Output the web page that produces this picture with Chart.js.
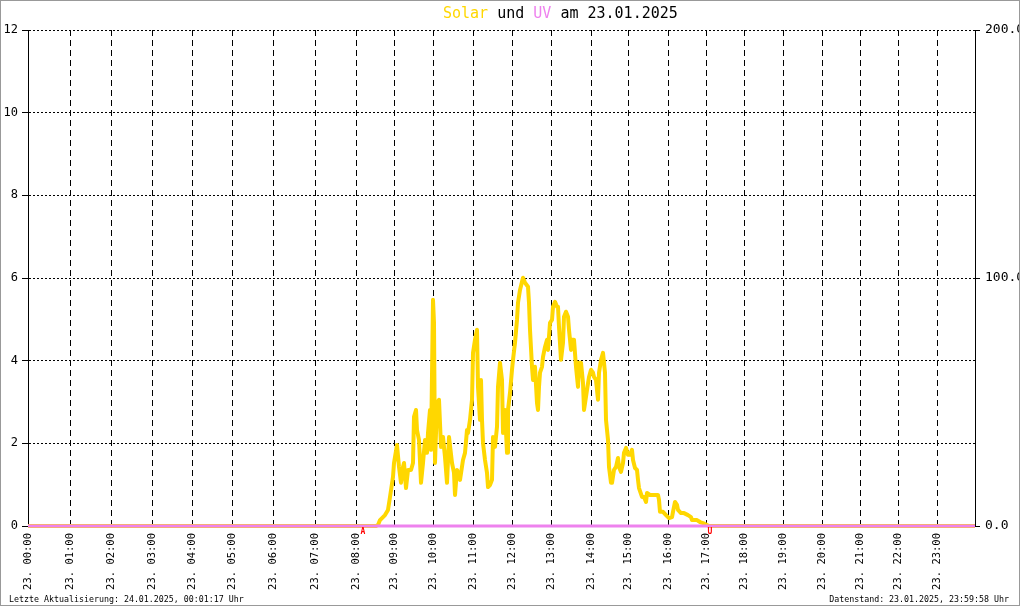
<!DOCTYPE html>
<html>
<head>
<meta charset="utf-8">
<title>Solar und UV am 23.01.2025</title>
<script src="https://cdn.jsdelivr.net/npm/chart.js@4.4.1/dist/chart.umd.min.js"></script>
<style>
  html, body { margin: 0; padding: 0; background: #fff; }
  canvas { display: block; }
</style>
</head>
<body>
<canvas id="solarChart" width="1020" height="606"></canvas>
<script>
const MONO = '"DejaVu Sans Mono", "Liberation Mono", monospace';
const SOLAR_COLOR = '#ffd700';
const UV_COLOR = '#ee82ee';

// logger record at which each full hour starts (rows are not evenly spaced over the day)
const hourRecords = [0, 42, 83, 124, 164, 204, 245, 287, 328, 366, 405, 445, 484, 523, 563, 600, 640, 678, 716, 755, 794, 832, 870, 909];
const hourLabels = ['23. 00:00', '23. 01:00', '23. 02:00', '23. 03:00', '23. 04:00', '23. 05:00',
  '23. 06:00', '23. 07:00', '23. 08:00', '23. 09:00', '23. 10:00', '23. 11:00',
  '23. 12:00', '23. 13:00', '23. 14:00', '23. 15:00', '23. 16:00', '23. 17:00',
  '23. 18:00', '23. 19:00', '23. 20:00', '23. 21:00', '23. 22:00', '23. 23:00'];
const lastRecord = 947;

const uvTicks = [0, 2, 4, 6, 8, 10, 12];
const solarTicks = [0, 100, 200];

// solar radiation, W/m²
const solarRecords = [
  0, 348, 350, 352, 357, 360, 362, 365, 366, 369,
  371, 373, 375, 376, 378, 380, 383, 385, 386, 388,
  389, 391, 393, 395, 397, 399, 400, 402, 403, 405,
  406, 407, 409, 411, 413, 415, 417, 419, 421, 424,
  426, 427, 429, 432, 435, 437, 439, 440, 442, 444,
  445, 447, 449, 450, 452, 453, 454, 455, 457, 459,
  460, 462, 464, 465, 467, 469, 470, 472, 474, 475,
  477, 479, 480, 482, 484, 485, 487, 489, 490, 492,
  494, 495, 497, 500, 501, 502, 504, 505, 507, 509,
  510, 511, 512, 514, 515, 517, 519, 520, 522, 524,
  525, 527, 529, 530, 531, 533, 535, 536, 538, 540,
  541, 543, 544, 546, 548, 550, 551, 553, 555, 556,
  558, 559, 561, 563, 565, 566, 568, 570, 571, 573,
  575, 576, 577, 578, 580, 581, 583, 584, 586, 588,
  590, 591, 593, 595, 596, 598, 600, 602, 604, 605,
  607, 609, 610, 611, 614, 616, 618, 619, 622, 626,
  630, 631, 632, 635, 638, 641, 644, 645, 647, 649,
  650, 653, 656, 660, 663, 664, 669, 672, 675, 679,
  681, 947];
const solarValues = [
  0, 0, 0.4, 2.4, 4.4, 6.5, 11.7, 19.8, 25.4, 32.7,
  23.8, 17.4, 23.8, 25.4, 15.3, 22.6, 22.6, 25.4, 44.0, 46.8,
  38.7, 34.7, 17.4, 25.4, 34.7, 29.5, 37.5, 46.8, 30.7, 91.2,
  81.9, 25.4, 49.6, 50.9, 31.9, 35.9, 27.8, 17.4, 35.9, 25.4,
  21.4, 12.5, 22.6, 18.6, 26.6, 29.5, 38.7, 37.5, 42.8, 50.9,
  69.8, 75.1, 79.1, 56.1, 42.8, 58.9, 42.8, 33.5, 26.6, 21.4,
  15.7, 16.5, 18.6, 35.9, 31.9, 40.0, 56.1, 65.8, 58.9, 37.5,
  46.8, 29.5, 46.8, 53.7, 63.0, 67.0, 73.9, 83.1, 90.0, 95.2,
  98.5, 100.1, 98.1, 96.5, 90.0, 79.1, 64.2, 58.9, 64.2, 49.6,
  46.8, 56.1, 61.8, 64.2, 68.2, 72.2, 75.1, 71.0, 81.9, 83.1,
  88.4, 90.4, 88.4, 88.4, 80.3, 67.0, 73.9, 84.4, 86.4, 84.4,
  79.1, 71.0, 75.1, 75.1, 64.2, 56.1, 65.8, 65.8, 57.7, 46.8,
  52.1, 54.9, 60.1, 63.0, 61.8, 60.1, 58.9, 50.9, 61.8, 67.0,
  69.8, 65.8, 61.8, 42.8, 34.7, 23.8, 17.4, 17.4, 22.6, 23.8,
  27.4, 23.8, 21.8, 25.4, 29.5, 31.5, 28.7, 28.7, 30.7, 26.6,
  23.4, 22.6, 18.6, 15.3, 11.7, 11.7, 9.7, 13.3, 12.5, 12.5,
  12.5, 10.5, 5.7, 5.7, 4.4, 3.2, 3.6, 5.7, 9.7, 8.5,
  6.5, 5.2, 5.2, 4.4, 3.6, 2.4, 2.4, 1.6, 1.2, 0.4,
  0, 0];

// UV index
const uvRecords = [0, 947];
const uvValues = [0, 0];

// sunrise (A) and sunset (U) marks
const sunRecords = [333, 680];
const sunMarks = ['A', 'U'];

const titleParts = [
  { text: 'Solar', color: SOLAR_COLOR },
  { text: ' und ', color: '#000' },
  { text: 'UV', color: UV_COLOR },
  { text: ' am 23.01.2025', color: '#000' },
];
const footLeft = 'Letzte Aktualisierung: 24.01.2025, 00:01:17 Uhr';
const footRight = 'Datenstand: 23.01.2025, 23:59:58 Uhr';

const decorPlugin = {
  id: 'decor',
  afterDraw(chart) {
    const ctx = chart.ctx;
    const x = chart.scales.x;
    ctx.save();

    // sunrise / sunset
    ctx.fillStyle = '#f00';
    ctx.font = 'bold 8px ' + MONO;
    ctx.textAlign = 'center';
    ctx.textBaseline = 'top';
    sunRecords.forEach((r, i) => {
      ctx.fillText(sunMarks[i], x.getPixelForValue(r) + 2, chart.chartArea.bottom + 2);
    });

    // title in several colours
    ctx.font = '15px ' + MONO;
    ctx.textAlign = 'left';
    ctx.textBaseline = 'alphabetic';
    let tx = 443;
    titleParts.forEach((p) => {
      ctx.fillStyle = p.color;
      ctx.fillText(p.text, tx, 18);
      tx += ctx.measureText(p.text).width;
    });

    // footer
    ctx.fillStyle = '#000';
    ctx.font = '8.3px ' + MONO;
    ctx.fillText(footLeft, 9, 602);
    ctx.textAlign = 'right';
    ctx.fillText(footRight, 1009, 602);

    // frame
    ctx.strokeStyle = '#999';
    ctx.lineWidth = 1;
    ctx.strokeRect(0.5, 0.5, 1019, 605);
    ctx.restore();
  },
};

new Chart(document.getElementById('solarChart'), {
  type: 'line',
  data: {
    datasets: [
      {
        label: 'UV',
        data: uvRecords.map((r, i) => ({ x: r, y: uvValues[i] })),
        yAxisID: 'y',
        borderColor: UV_COLOR,
        borderWidth: 3,
        pointRadius: 0,
        tension: 0,
        clip: false,
        order: 0,
      },
      {
        label: 'Solar',
        data: solarRecords.map((r, i) => ({ x: r, y: solarValues[i] })),
        yAxisID: 'y1',
        borderColor: SOLAR_COLOR,
        borderWidth: 4,
        borderJoinStyle: 'round',
        pointRadius: 0,
        tension: 0,
        clip: false,
        order: 1,
      },
    ],
  },
  options: {
    responsive: false,
    animation: false,
    layout: { padding: { top: 30, left: 0, right: 0, bottom: 0 } },
    plugins: {
      legend: { display: false },
      title: { display: false },
      tooltip: { enabled: false },
    },
    scales: {
      x: {
        type: 'linear',
        min: 0,
        max: lastRecord,
        afterBuildTicks: (scale) => {
          scale.ticks = hourRecords.map((v) => ({ value: v }));
        },
        afterFit: (scale) => {
          scale.height = 80;
        },
        grid: { color: '#000', lineWidth: 1, drawTicks: false },
        border: { display: false, dash: [6, 4] },
        ticks: {
          autoSkip: false,
          minRotation: 90,
          maxRotation: 90,
          padding: 7,
          color: '#000',
          font: { family: MONO, size: 10.5 },
          callback: (value, index) => hourLabels[index],
        },
      },
      y: {
        position: 'left',
        min: 0,
        max: 12,
        afterBuildTicks: (scale) => {
          scale.ticks = uvTicks.map((v) => ({ value: v }));
        },
        afterFit: (scale) => {
          scale.width = 28;
        },
        grid: { color: '#000', lineWidth: 1, tickLength: 6, tickColor: '#000' },
        border: { display: true, color: '#000', width: 1, dash: [2, 2] },
        ticks: {
          color: '#000',
          padding: 4,
          font: { family: MONO, size: 12 },
        },
      },
      y1: {
        position: 'right',
        min: 0,
        max: 200,
        afterBuildTicks: (scale) => {
          scale.ticks = solarTicks.map((v) => ({ value: v }));
        },
        afterFit: (scale) => {
          scale.width = 45;
        },
        grid: { drawOnChartArea: false, tickLength: 5, tickColor: '#000' },
        border: { display: true, color: '#000', width: 1 },
        ticks: {
          color: '#000',
          padding: 5,
          font: { family: MONO, size: 13 },
          callback: (value) => value.toFixed(1),
        },
      },
    },
  },
  plugins: [decorPlugin],
});
</script>
</body>
</html>
